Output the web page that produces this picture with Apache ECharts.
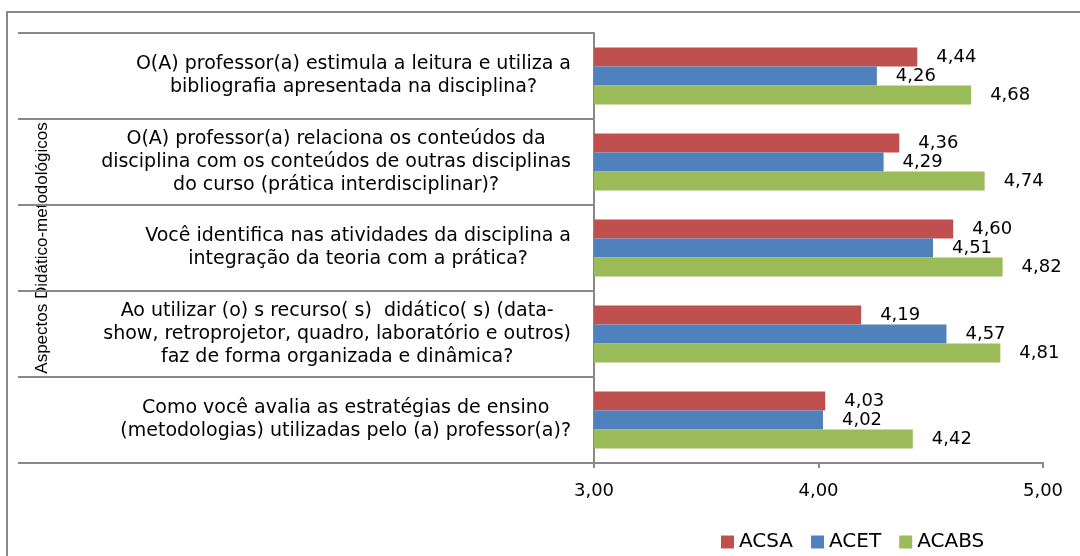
<!DOCTYPE html>
<html>
<head>
<meta charset="utf-8">
<script src="https://cdn.jsdelivr.net/npm/echarts@6/dist/echarts.min.js"></script>
<style>html,body{margin:0;padding:0;background:#fff}#c{width:1080px;height:556px}</style>
</head>
<body>
<div id="c"></div>
<script>
const categories = [
  'O(A) professor(a) estimula a leitura e utiliza a\nbibliografia apresentada na disciplina?',
  'O(A) professor(a) relaciona os conteúdos da\ndisciplina com os conteúdos de outras disciplinas\ndo curso (prática interdisciplinar)?',
  'Você identifica nas atividades da disciplina a\nintegração da teoria com a prática?',
  'Ao utilizar (o) s recurso( s)  didático( s) (data-\nshow, retroprojetor, quadro, laboratório e outros)\nfaz de forma organizada e dinâmica?',
  'Como você avalia as estratégias de ensino\n(metodologias) utilizadas pelo (a) professor(a)?'
];
const seriesNames = ['ACSA', 'ACET', 'ACABS'];
const acsa = [4.44, 4.36, 4.60, 4.19, 4.03];
const acet = [4.26, 4.29, 4.51, 4.57, 4.02];
const acabs = [4.68, 4.74, 4.82, 4.81, 4.42];
const axisName = 'Aspectos Didático-metodológicos';
const xTicks = [3, 4, 5];

const colors = ['#C0504D', '#4F81BD', '#9BBB59'];
const fmt = v => v.toFixed(2).replace('.', ',');
const font = 'DejaVu Sans';

const chart = echarts.init(document.getElementById('c'));
const mk = (name, data, i) => ({
  name, type: 'bar', data,
  barGap: '0%', barCategoryGap: '34%',
  itemStyle: { color: colors[i] },
  label: { show: true, position: 'right', distance: 19, color: '#000', fontFamily: font, fontSize: 18,
    formatter: p => fmt(p.value) },
  emphasis: { disabled: true }
});
chart.setOption({
  animation: false,
  textStyle: { fontFamily: font },
  graphic: [{ type: 'rect', shape: { x: 7, y: 12, width: 1100, height: 600 }, style: { fill: 'none', stroke: '#888', lineWidth: 2 }, silent: true }],
  legend: {
    left: 716, top: 527, itemWidth: 13, itemHeight: 13, itemGap: 18,
    icon: 'rect',
    textStyle: { fontFamily: font, fontSize: 20, color: '#000' },
    data: seriesNames
  },
  grid: { left: 594, right: 37, top: 33, bottom: 93, containLabel: false },
  xAxis: {
    type: 'value', min: xTicks[0], max: xTicks[xTicks.length - 1], interval: 1,
    splitLine: { show: false },
    axisLine: { show: true, lineStyle: { color: '#888', width: 2 } },
    axisTick: { show: true, length: 5, lineStyle: { color: '#888', width: 2 } },
    axisLabel: { fontFamily: font, fontSize: 18, color: '#000', margin: 19, formatter: v => fmt(v) }
  },
  yAxis: {
    type: 'category', inverse: true, data: categories,
    name: axisName, nameLocation: 'middle', nameRotate: 90, nameGap: 543,
    nameTextStyle: { fontFamily: 'Liberation Sans', fontSize: 17, color: '#000' },
    axisLine: { show: true, lineStyle: { color: '#888', width: 2 } },
    axisTick: { show: true, length: 576, lineStyle: { color: '#888', width: 2 } },
    axisLabel: {
      margin: 23, align: 'right', color: '#000', fontFamily: font, fontSize: 19, lineHeight: 23,
      formatter: v => v.split('\n').map(l => '{c|' + l + '}').join('\n'),
      rich: { c: { align: 'center', fontFamily: font, fontSize: 19, lineHeight: 23, color: '#000' } }
    }
  },
  series: [mk(seriesNames[0], acsa, 0), mk(seriesNames[1], acet, 1), mk(seriesNames[2], acabs, 2)]
});
</script>
</body>
</html>
